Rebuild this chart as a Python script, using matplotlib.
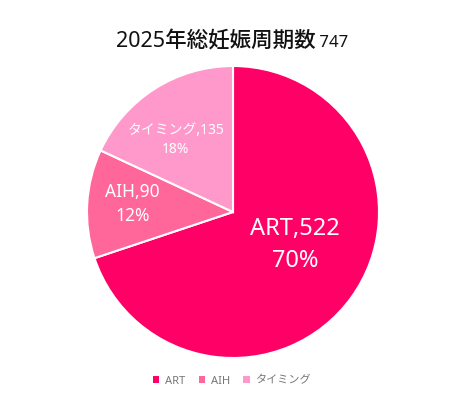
import matplotlib
matplotlib.use('Agg')
import matplotlib.pyplot as plt
import numpy as np
from matplotlib.patches import Patch

plt.rcParams['font.family'] = ['Noto Sans', 'Noto Sans CJK JP', 'DejaVu Sans']

# --- データ ---
labels = ['ART', 'AIH', 'タイミング']
counts = [522, 90, 135]
colors = ['#FF0066', '#FF6699', '#FF99CC']
title_main = '2025年総妊娠周期数'
title_total = '747'

# ラベルの位置 (角度, 半径比) とフォントサイズ
label_pos = [(-28, 0.48), (175.5, 0.69), (128.5, 0.63)]
label_size = [17, 12.5, 10]

W, H = 464, 416
fig = plt.figure(figsize=(W / 100, H / 100), dpi=100)

cx, cy, R = 233, 416 - 212, 146
ax = fig.add_axes([(cx - R) / W, (cy - R) / H, 2 * R / W, 2 * R / H])
ax.pie(counts, colors=colors, startangle=90, counterclock=False, radius=1,
       wedgeprops=dict(edgecolor='white', linewidth=1.5))
ax.set_xlim(-1, 1)
ax.set_ylim(-1, 1)
ax.set_aspect('equal')
ax.axis('off')

total = sum(counts)
for lab, n, (ang, r), fs in zip(labels, counts, label_pos, label_size):
    pct = round(n / total * 100)
    x = r * np.cos(np.radians(ang))
    y = r * np.sin(np.radians(ang))
    ax.text(x, y, f'{lab},{n}\n{pct}%', ha='center', va='center', color='white',
            fontsize=fs, linespacing=1.45)

# タイトル (2つのサイズ)
t1 = fig.text(0.5, 1 - 42 / H, title_main, ha='left', va='center', fontsize=15.5,
              color='#111111', fontweight='medium')
t2 = fig.text(0.5, 1 - 43 / H, ' ' + title_total, ha='left', va='center', fontsize=12,
              color='#111111')
r_ = fig.canvas.get_renderer()
w1 = t1.get_window_extent(r_).width
w2 = t2.get_window_extent(r_).width
x0 = (W - (w1 + w2)) / 2
t1.set_x(x0 / W)
t2.set_x((x0 + w1) / W)

handles = [Patch(facecolor=c, edgecolor='none') for c in colors]
leg = fig.legend(handles, labels, loc='center', bbox_to_anchor=(0.5, 1 - 381 / H), ncol=3,
                 frameon=False, fontsize=8, handlelength=0.6, handleheight=0.6,
                 handletextpad=0.5, columnspacing=1.2)
for t in leg.get_texts():
    t.set_color('#777777')

fig.savefig('out.png', dpi=100)
